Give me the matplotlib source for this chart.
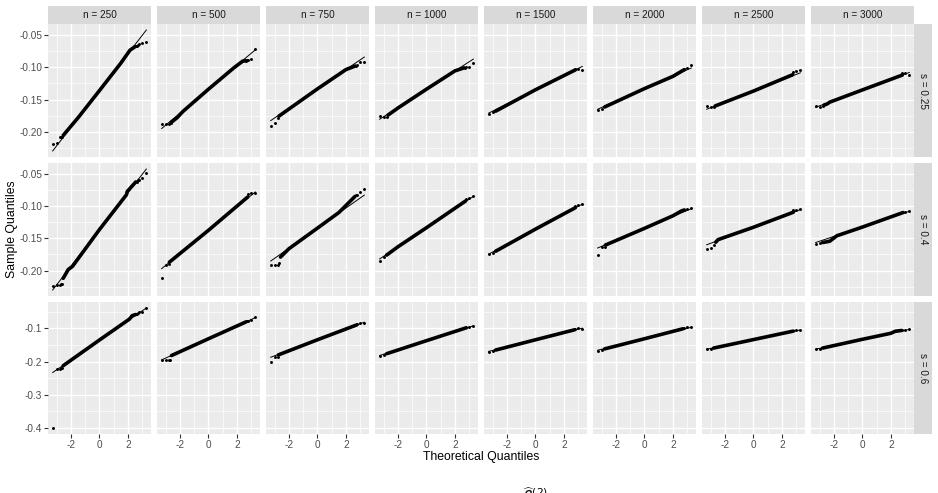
import matplotlib
matplotlib.use("Agg")
import matplotlib.pyplot as plt
from matplotlib.patches import Rectangle
from matplotlib.ticker import FixedLocator
from statistics import NormalDist

# ---------------- data ----------------
n_sizes = [250, 500, 750, 1000, 1500, 2000, 2500, 3000]
s_values = ["0.25", "0.4", "0.6"]
n_reps = 1000  # points per panel

col_labels = [f"n = {n}" for n in n_sizes]
row_labels = [f"s = {s}" for s in s_values]

x_ticks = [-2, 0, 2]
x_tick_labels = ["-2", "0", "2"]
x_minor = [-3, -1, 1, 3]

y_ticks_rows = [[-0.20, -0.15, -0.10, -0.05],
                [-0.20, -0.15, -0.10, -0.05],
                [-0.4, -0.3, -0.2, -0.1]]
y_tick_labels_rows = [["-0.20", "-0.15", "-0.10", "-0.05"],
                      ["-0.20", "-0.15", "-0.10", "-0.05"],
                      ["-0.4", "-0.3", "-0.2", "-0.1"]]
y_minor_rows = [[-0.225, -0.175, -0.125, -0.075, -0.025],
                [-0.225, -0.175, -0.125, -0.075, -0.025],
                [-0.35, -0.25, -0.15, -0.05]]

# reference line value at the lowest / highest theoretical quantile
qq_line_lo = [[-0.2297, -0.1949, -0.1827, -0.1805, -0.1710, -0.1650, -0.1650, -0.1620],
              [-0.2301, -0.1970, -0.1853, -0.1820, -0.1745, -0.1650, -0.1600, -0.1565],
              [-0.2331, -0.1950, -0.1872, -0.1817, -0.1695, -0.1660, -0.1629, -0.1629]]
qq_line_hi = [[-0.0422, -0.0729, -0.0841, -0.0873, -0.0986, -0.1010, -0.1085, -0.1080],
              [-0.0425, -0.0781, -0.0829, -0.0850, -0.0970, -0.1040, -0.1055, -0.1080],
              [-0.0390, -0.0680, -0.0818, -0.0929, -0.0997, -0.0970, -0.1051, -0.1033]]

# smallest order statistics (rank 1, 2, ...)
low_tail = [
    [[-0.2192, -0.2180, -0.2088, -0.2085, -0.2075],
     [-0.1885, -0.1885, -0.1875, -0.1870, -0.1862],
     [-0.1911, -0.1860, -0.1790],
     [-0.1755, -0.1770, -0.1772],
     [-0.1720, -0.1700],
     [-0.1661, -0.1640],
     [-0.1598, -0.1610, -0.1612],
     [-0.1598, -0.1619, -0.1600]],
    [[-0.2246, -0.2225, -0.2220, -0.2215, -0.2210],
     [-0.2114, -0.1920, -0.1900],
     [-0.1921, -0.1920, -0.1910, -0.1890],
     [-0.1859, -0.1790],
     [-0.1749, -0.1720],
     [-0.1754, -0.1640, -0.1630],
     [-0.1660, -0.1644, -0.1608],
     [-0.1581, -0.1570]],
    [[-0.4000, -0.2228, -0.2215, -0.2200, -0.2185],
     [-0.1960, -0.1965, -0.1950, -0.1940],
     [-0.2018, -0.1870, -0.1860],
     [-0.1820, -0.1800],
     [-0.1700, -0.1690],
     [-0.1670, -0.1650],
     [-0.1629, -0.1620],
     [-0.1629, -0.1615]],
]
# largest order statistics (rank n, n-1, ...)
high_tail = [
    [[-0.0603, -0.0619, -0.0645, -0.0660, -0.0668, -0.0675],
     [-0.0713, -0.0869, -0.0880, -0.0890, -0.0897],
     [-0.0916, -0.0916, -0.0960, -0.0975],
     [-0.0931, -0.1000, -0.1002, -0.1005],
     [-0.1036, -0.1030, -0.1025],
     [-0.0969, -0.1010, -0.1020],
     [-0.1047, -0.1060, -0.1075],
     [-0.1114, -0.1090, -0.1095]],
    [[-0.0484, -0.0560, -0.0589, -0.0600, -0.0620],
     [-0.0789, -0.0800, -0.0810],
     [-0.0735, -0.0777, -0.0820, -0.0835],
     [-0.0840, -0.0880, -0.0890],
     [-0.0970, -0.0985, -0.0995],
     [-0.1033, -0.1050, -0.1055],
     [-0.1048, -0.1060, -0.1065],
     [-0.1075, -0.1085]],
    [[-0.0392, -0.0503, -0.0520, -0.0540, -0.0560],
     [-0.0647, -0.0760, -0.0780, -0.0790],
     [-0.0833, -0.0850, -0.0870],
     [-0.0931, -0.0950],
     [-0.1015, -0.1000, -0.1020],
     [-0.0952, -0.0952, -0.0990],
     [-0.1051, -0.1060],
     [-0.1030, -0.1040, -0.1060]],
]
# dense body of points: (theoretical quantile, sample quantile) knots
band_knots = [
    [[(-2.55, -0.2055), (-1.5, -0.1780), (0, -0.1360), (1.5, -0.0935), (2.14, -0.0735), (2.5, -0.0680)],
     [(-2.6, -0.1850), (-2.2, -0.1780), (-1.8, -0.1685), (0, -0.1339), (1.8, -0.1005), (2.4, -0.0905), (2.65, -0.0898)],
     [(-2.7, -0.1755), (0, -0.1334), (2.0, -0.1035), (2.65, -0.0980)],
     [(-2.7, -0.1740), (-2.0, -0.1630), (0, -0.1339), (2.0, -0.1055), (2.65, -0.1008)],
     [(-2.8, -0.1680), (0, -0.1348), (2.8, -0.1040)],
     [(-2.8, -0.1615), (0, -0.1330), (2.0, -0.1140), (2.8, -0.1036)],
     [(-2.7, -0.1600), (0, -0.1368), (2.75, -0.1115)],
     [(-2.7, -0.1585), (-2.5, -0.1570), (-2.3, -0.1540), (0, -0.1350), (2.8, -0.1120)]],
    [[(-2.55, -0.2120), (-2.2, -0.1985), (-1.9, -0.1935), (0, -0.1363), (1.9, -0.0822), (1.95, -0.0773), (2.55, -0.0625)],
     [(-2.75, -0.1870), (0, -0.1375), (2.75, -0.0860)],
     [(-2.6, -0.1791), (-2.0, -0.1660), (0, -0.1341), (1.5, -0.1100), (2.63, -0.0851)],
     [(-2.8, -0.1760), (-2.0, -0.1630), (0, -0.1335), (2.75, -0.0920)],
     [(-2.8, -0.1700), (0, -0.1357), (2.8, -0.1025)],
     [(-2.75, -0.1605), (0, -0.1345), (2.0, -0.1150), (2.6, -0.1075), (2.8, -0.1060)],
     [(-2.65, -0.1560), (-2.49, -0.1520), (0, -0.1328), (2.8, -0.1095)],
     [(-2.8, -0.1565), (-2.3, -0.1545), (-1.8, -0.1460), (0, -0.1325), (2.85, -0.1100)]],
    [[(-2.55, -0.2125), (0, -0.1352), (2.1, -0.0725), (2.3, -0.0620), (2.55, -0.0585)],
     [(-2.6, -0.1820), (0, -0.1315), (2.65, -0.0805)],
     [(-2.75, -0.1800), (0, -0.1345), (2.75, -0.0900)],
     [(-2.8, -0.1765), (0, -0.1373), (2.8, -0.0985)],
     [(-2.8, -0.1655), (0, -0.1346), (2.75, -0.1045)],
     [(-2.8, -0.1620), (0, -0.1315), (2.7, -0.1015)],
     [(-2.8, -0.1595), (0, -0.1340), (2.8, -0.1085)],
     [(-2.8, -0.1595), (0, -0.1331), (2.0, -0.1150), (2.3, -0.1090), (2.75, -0.1065)]],
]

# ---------------- styling / layout ----------------
plt.rcParams["font.family"] = ["Liberation Sans", "DejaVu Sans"]
plt.rcParams["axes.unicode_minus"] = False

W, H = 938, 493
fig = plt.figure(figsize=(W / 100, H / 100), dpi=100)

panel_left0, panel_step, panel_w = 48, 109, 103
row_tops = [24, 163, 302]
row_h = [133, 133, 132]
strip_h = 18
strip_x0, strip_w = 914, 18

PANEL_BG = "#EBEBEB"
STRIP_BG = "#D9D9D9"

nd = NormalDist()
theo = [nd.inv_cdf((i - 0.5) / n_reps) for i in range(1, n_reps + 1)]
q_lo, q_hi = theo[0], theo[-1]
x_pad = 0.05 * (q_hi - q_lo)


def fx(px):
    return px / W


def fy(py):
    return 1 - py / H


for r in range(3):
    # y range of the row from its data (free y scales per row)
    vals = []
    for c in range(8):
        vals += low_tail[r][c] + high_tail[r][c]
        vals += [qq_line_lo[r][c], qq_line_hi[r][c]]
        vals += [v for _, v in band_knots[r][c]]
    ymin, ymax = min(vals), max(vals)
    y_pad = 0.05 * (ymax - ymin)

    for c in range(8):
        left = panel_left0 + panel_step * c
        ax = fig.add_axes([fx(left), fy(row_tops[r] + row_h[r]), panel_w / W, row_h[r] / H])
        ax.set_facecolor(PANEL_BG)
        for sp in ax.spines.values():
            sp.set_visible(False)
        ax.set_xlim(q_lo - x_pad, q_hi + x_pad)
        ax.set_ylim(ymin - y_pad, ymax + y_pad)

        ax.xaxis.set_major_locator(FixedLocator(x_ticks))
        ax.xaxis.set_minor_locator(FixedLocator(x_minor))
        ax.yaxis.set_major_locator(FixedLocator(y_ticks_rows[r]))
        ax.yaxis.set_minor_locator(FixedLocator(y_minor_rows[r]))
        ax.grid(which="major", color="white", linewidth=0.95)
        ax.grid(which="minor", color="white", linewidth=0.5)
        ax.set_axisbelow(True)
        ax.tick_params(which="minor", length=0)

        if c == 0:
            ax.set_yticklabels(y_tick_labels_rows[r])
            ax.tick_params(axis="y", which="major", length=2.6, width=0.8, color="#333333",
                           labelcolor="#4D4D4D", labelsize=7.2, pad=1.5)
        else:
            ax.tick_params(axis="y", which="major", left=False, labelleft=False)
        if r == 2:
            ax.set_xticklabels(x_tick_labels)
            ax.tick_params(axis="x", which="major", length=2.6, width=0.8, color="#333333",
                           labelcolor="#4D4D4D", labelsize=7.2, pad=1.5)
        else:
            ax.tick_params(axis="x", which="major", bottom=False, labelbottom=False)

        # dense body of points
        bq = [q for q, _ in band_knots[r][c]]
        bv = [v for _, v in band_knots[r][c]]
        ax.plot(bq, bv, color="black", linewidth=2.6, solid_capstyle="round",
                solid_joinstyle="round", zorder=3)
        # tail points
        lt = low_tail[r][c]
        ht = high_tail[r][c]
        ax.scatter(theo[:len(lt)], lt, s=4.5, color="black", linewidths=0, zorder=4)
        ax.scatter(theo[::-1][:len(ht)], ht, s=4.5, color="black", linewidths=0, zorder=4)
        # reference line
        ax.plot([q_lo, q_hi], [qq_line_lo[r][c], qq_line_hi[r][c]], color="black",
                linewidth=0.7, zorder=5)

    # right strip
    fig.add_artist(Rectangle((fx(strip_x0), fy(row_tops[r] + row_h[r])), strip_w / W, row_h[r] / H,
                             transform=fig.transFigure, facecolor=STRIP_BG, edgecolor="none"))
    fig.text(fx(strip_x0 + strip_w / 2), fy(row_tops[r] + row_h[r] / 2), row_labels[r],
             rotation=-90, ha="center", va="center", fontsize=7.2, color="#1A1A1A")

# top strips
for c in range(8):
    left = panel_left0 + panel_step * c
    fig.add_artist(Rectangle((fx(left), fy(row_tops[0])), panel_w / W, strip_h / H,
                             transform=fig.transFigure, facecolor=STRIP_BG, edgecolor="none"))
    fig.text(fx(left + panel_w / 2), fy(row_tops[0] - strip_h / 2), col_labels[c],
             ha="center", va="center", fontsize=7.2, color="#1A1A1A")

# axis titles
fig.text(fx(481), fy(457), "Theoretical Quantiles", ha="center", va="center",
         fontsize=8.8, color="black")
fig.text(fx(12), fy(229), "Sample Quantiles", ha="center", va="center",
         rotation=90, fontsize=8.8, color="black")

# caption (mostly outside the canvas, as in the reference)
fig.text(fx(535), fy(485), r"$\widehat{\beta}^{(2)}$", ha="center", va="top",
         fontsize=11, color="black")

fig.savefig("out.png", dpi=100, facecolor="white")
